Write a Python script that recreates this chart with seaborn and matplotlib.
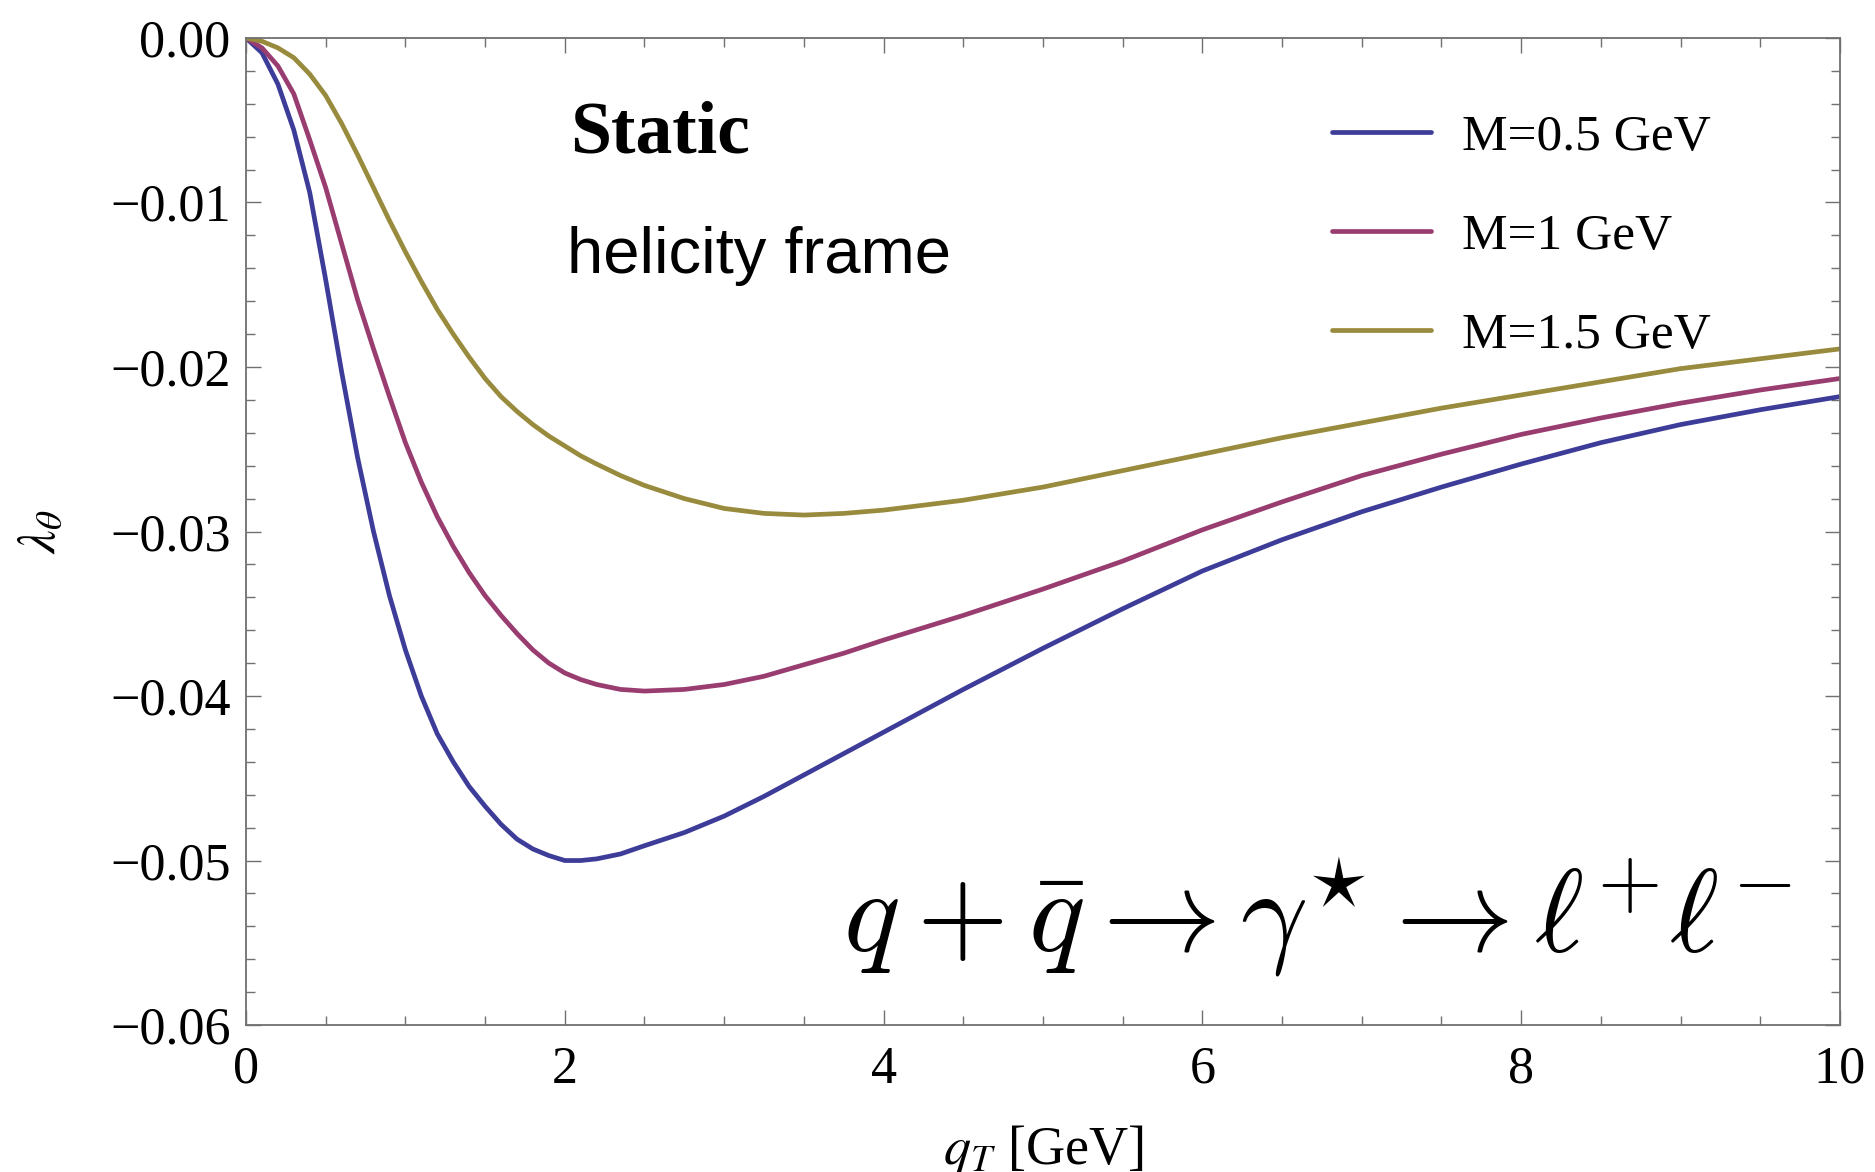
import matplotlib
matplotlib.use("Agg")
import matplotlib.pyplot as plt
from matplotlib.ticker import MultipleLocator, FuncFormatter
import seaborn as sns
import pandas as pd

# q_T grid [GeV] and lambda_theta
qt = [0.0, 0.1, 0.2, 0.3, 0.4, 0.5, 0.6, 0.7, 0.8, 0.9,
      1.0, 1.1, 1.2, 1.3, 1.4, 1.5, 1.6, 1.7, 1.8, 1.9,
      2.0, 2.1, 2.2, 2.35, 2.5, 2.75, 3.0, 3.25, 3.5, 3.75, 4.0,
      4.5, 5.0, 5.5, 6.0, 6.5, 7.0, 7.5, 8.0, 8.5, 9.0, 9.5, 10.0]

lam_m05 = [0.0, -0.0009, -0.0028, -0.0056, -0.0094, -0.0147, -0.0203, -0.0255, -0.0300, -0.0339,
           -0.0372, -0.0400, -0.0423, -0.0440, -0.0455, -0.0467, -0.0478, -0.0487, -0.0493, -0.0497,
           -0.0500, -0.0500, -0.0499, -0.0496, -0.0491, -0.0483, -0.0473, -0.0461, -0.0448, -0.0435, -0.0422,
           -0.0396, -0.0371, -0.0347, -0.0324, -0.0305, -0.0288, -0.0273, -0.0259, -0.0246, -0.0235, -0.0226, -0.0218]

lam_m10 = [0.0, -0.0006, -0.0017, -0.0034, -0.0062, -0.0091, -0.0125, -0.0159, -0.0189, -0.0218,
           -0.0246, -0.0270, -0.0291, -0.0309, -0.0325, -0.0339, -0.0351, -0.0362, -0.0372, -0.0380,
           -0.0386, -0.0390, -0.0393, -0.0396, -0.0397, -0.0396, -0.0393, -0.0388, -0.0381, -0.0374, -0.0366,
           -0.0351, -0.0335, -0.0318, -0.0299, -0.0282, -0.0266, -0.0253, -0.0241, -0.0231, -0.0222, -0.0214, -0.0207]

lam_m15 = [0.0, -0.0002, -0.0006, -0.0012, -0.0022, -0.0035, -0.0052, -0.0071, -0.0091, -0.0111,
           -0.0130, -0.0148, -0.0165, -0.0180, -0.0194, -0.0207, -0.0218, -0.0227, -0.0235, -0.0242,
           -0.0248, -0.0254, -0.0259, -0.0266, -0.0272, -0.0280, -0.0286, -0.0289, -0.0290, -0.0289, -0.0287,
           -0.0281, -0.0273, -0.0263, -0.0253, -0.0243, -0.0234, -0.0225, -0.0217, -0.0209, -0.0201, -0.0195, -0.0189]

labels = ["M=0.5 GeV", "M=1 GeV", "M=1.5 GeV"]
colors = ["#3d3d99", "#993d71", "#998b3d"]

df = pd.concat([
    pd.DataFrame({"qt": qt, "lam": vals, "mass": lab})
    for vals, lab in zip([lam_m05, lam_m10, lam_m15], labels)
])

sns.set_theme(style="ticks")
plt.rcParams["font.family"] = ["Liberation Serif", "DejaVu Serif"]
plt.rcParams["mathtext.fontset"] = "stix"
plt.rcParams["axes.unicode_minus"] = True
plt.rcParams["text.color"] = "black"
plt.rcParams["axes.labelcolor"] = "black"

fig = plt.figure(figsize=(18.75, 11.72), dpi=100)
ax = fig.add_axes([0.1312, 0.1254, 0.8501, 0.8422])

sns.lineplot(data=df, x="qt", y="lam", hue="mass", hue_order=labels,
             palette=colors, linewidth=3.4, legend=False, ax=ax, sort=False)

ax.set_xlim(0, 10)
ax.set_ylim(-0.06, 0.0)

# frame & ticks (Mathematica look)
for sp in ax.spines.values():
    sp.set_visible(True)
    sp.set_color("#707070")
    sp.set_linewidth(1.3)

ax.xaxis.set_major_locator(MultipleLocator(2))
ax.xaxis.set_minor_locator(MultipleLocator(0.5))
ax.yaxis.set_major_locator(MultipleLocator(0.01))
ax.yaxis.set_minor_locator(MultipleLocator(0.002))
ax.yaxis.set_major_formatter(FuncFormatter(
    lambda v, p: "0.00" if abs(v) < 1e-9 else f"{v:.2f}".replace("-", "\u2212")))
ax.xaxis.set_major_formatter(FuncFormatter(lambda v, p: f"{v:.0f}"))

ax.tick_params(which="both", direction="in", top=True, right=True,
               color="#707070", width=1.0, labelsize=37.5, labelcolor="black")
ax.tick_params(which="major", length=11)
ax.tick_params(which="minor", length=6.5)
ax.tick_params(axis="x", which="major", pad=15)
ax.tick_params(axis="y", which="major", pad=11)

ax.set_xlabel(r"$q_T$ [GeV]", fontsize=39)
ax.set_ylabel(r"$\lambda_\theta$", fontsize=38)
ax.xaxis.set_label_coords(0.5, -0.099)
ax.yaxis.set_label_coords(-0.113, 0.5)

# annotations
ax.text(0.2033, 0.8835, "Static", transform=ax.transAxes, fontsize=53,
        fontweight="bold", va="baseline", ha="left", color="black")
ax.text(0.2014, 0.7619, "helicity frame", transform=ax.transAxes, fontsize=47,
        family="Liberation Sans", va="baseline", ha="left", color="black")
ax.text(0.6719, 0.074, r"$q+\bar{q}\rightarrow\gamma^{\star}\rightarrow\ell^{+}\ell^{-}$",
        transform=ax.transAxes, fontsize=85, math_fontfamily="cm",
        va="baseline", ha="center", color="black")

leg = ax.legend(ax.get_lines()[:3], labels, loc="upper left",
                bbox_to_anchor=(1332 / 1875, 1 - 114 / 1172),
                bbox_transform=fig.transFigure, frameon=False, fontsize=37,
                handlelength=1.92, handletextpad=0.6, labelspacing=1.01,
                borderpad=0, borderaxespad=0)
for t in leg.get_texts():
    t.set_color("black")

fig.savefig("out.png", dpi=100)
